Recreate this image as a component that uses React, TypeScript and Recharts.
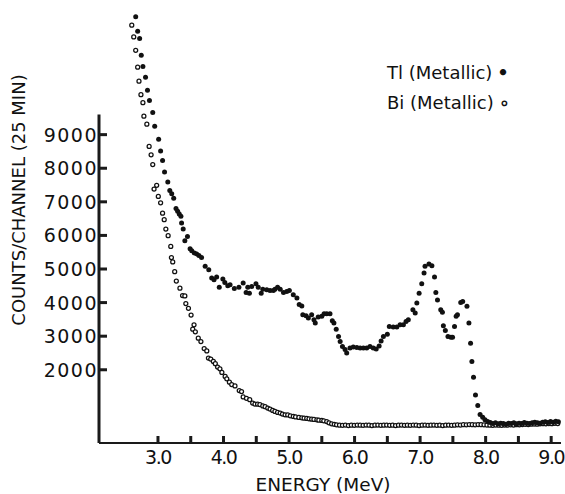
import React from 'react';
import { ScatterChart, Scatter, XAxis, YAxis, Legend, ReferenceLine } from 'recharts';

// Tl (Metallic) — filled dots
const tlEnergy = [
  2.66, 2.69, 2.72, 2.745, 2.77, 2.81, 2.84, 2.87, 2.92, 2.95, 3.01, 3.04, 3.07, 3.1, 3.15, 3.18, 3.21, 3.24,
  3.275, 3.3, 3.325, 3.35, 3.36, 3.385, 3.41, 3.45, 3.49, 3.515, 3.555, 3.59, 3.625, 3.665, 3.72, 3.775, 3.82,
  3.855, 3.895, 3.935, 3.99, 4.02, 4.065, 4.1, 4.165, 4.235, 4.3, 4.345, 4.37, 4.395, 4.43, 4.495, 4.53, 4.575,
  4.6, 4.66, 4.71, 4.76, 4.785, 4.825, 4.865, 4.915, 4.965, 5.005, 5.065, 5.12, 5.155, 5.195, 5.21, 5.26, 5.295,
  5.345, 5.38, 5.4, 5.445, 5.5, 5.535, 5.575, 5.625, 5.66, 5.685, 5.72, 5.755, 5.78, 5.815, 5.855, 5.88, 5.93,
  5.98, 6.035, 6.085, 6.135, 6.185, 6.235, 6.285, 6.33, 6.375, 6.405, 6.44, 6.5, 6.53, 6.59, 6.645, 6.695, 6.745,
  6.785, 6.82, 6.89, 6.925, 6.95, 6.985, 7.025, 7.06, 7.075, 7.135, 7.18, 7.22, 7.24, 7.265, 7.315, 7.34, 7.355,
  7.385, 7.425, 7.47, 7.495, 7.525, 7.55, 7.57, 7.62, 7.65, 7.715, 7.745, 7.77, 7.79, 7.815, 7.845, 7.88, 7.915,
  7.955, 7.99, 8.03, 8.07, 8.11, 8.15, 8.19, 8.23, 8.27, 8.31, 8.35, 8.39, 8.43, 8.47, 8.51, 8.55, 8.59, 8.63,
  8.67, 8.71, 8.75, 8.79, 8.83, 8.87, 8.91, 8.95, 8.99, 9.03, 9.07, 9.11,
];
const tlCounts = [
  12510, 12080, 11860, 11360, 11030, 10710, 10320, 10020, 9660, 9250, 8860, 8510, 8230, 7890, 7590, 7340, 7240, 7110,
  6800, 6720, 6640, 6570, 6370, 6190, 5840, 5970, 5600, 5540, 5480, 5450, 5400, 5340, 5080, 4980, 4730,
  4680, 4760, 4460, 4700, 4600, 4500, 4530, 4420, 4460, 4580, 4300, 4460, 4280, 4480, 4560, 4460, 4280,
  4400, 4380, 4360, 4360, 4400, 4460, 4400, 4300, 4330, 4360, 4230, 4140, 3940, 3900, 3640, 3610, 3540,
  3640, 3490, 3390, 3570, 3590, 3670, 3670, 3670, 3460, 3390, 3210, 2990, 2840, 2690, 2600, 2500, 2650,
  2680, 2660, 2650, 2650, 2650, 2690, 2650, 2620, 2710, 2860, 2990, 3060, 3290, 3270, 3270, 3340, 3340,
  3440, 3490, 3790, 3690, 3990, 4280, 4560, 4880, 5080, 5150, 5100, 4760, 4300, 4080, 3790, 3710, 3310,
  3170, 2990, 2970, 2970, 3290, 3590, 3640, 4000, 4030, 3890, 3390, 2790, 2250, 1780, 1250, 935, 670,
  590, 510, 460, 430, 400, 420, 390, 410, 400, 380, 410, 400, 420, 390, 410, 400, 430, 410,
  400, 420, 440, 420, 410, 440, 450, 430, 460, 440, 470, 450,
];

// Bi (Metallic) — open circles
const biEnergy = [
  2.6, 2.63, 2.66, 2.69, 2.71, 2.74, 2.77, 2.785, 2.83, 2.865, 2.895, 2.92, 2.94, 2.98, 3.005, 3.04, 3.07, 3.095,
  3.12, 3.155, 3.195, 3.205, 3.225, 3.255, 3.28, 3.335, 3.375, 3.41, 3.425, 3.465, 3.505, 3.53, 3.55, 3.57, 3.615,
  3.655, 3.705, 3.745, 3.77, 3.805, 3.845, 3.875, 3.91, 3.945, 3.975, 4.025, 4.05, 4.09, 4.125, 4.175, 4.24, 4.275,
  4.3, 4.35, 4.4, 4.445, 4.48, 4.52, 4.555, 4.6, 4.635, 4.675, 4.71, 4.75, 4.785, 4.825, 4.865, 4.9, 4.94, 4.98,
  5.02, 5.065, 5.1, 5.15, 5.195, 5.23, 5.27, 5.305, 5.345, 5.38, 5.425, 5.455, 5.5, 5.53, 5.575, 5.61, 5.65, 5.69,
  5.725, 5.77, 5.815, 5.86, 5.905, 5.95, 5.995, 6.04, 6.085, 6.13, 6.175, 6.22, 6.265, 6.31, 6.355, 6.4, 6.445,
  6.49, 6.535, 6.58, 6.625, 6.67, 6.715, 6.76, 6.805, 6.85, 6.895, 6.94, 6.985, 7.03, 7.075, 7.12, 7.165, 7.21,
  7.255, 7.3, 7.345, 7.39, 7.435, 7.48, 7.525, 7.57, 7.615, 7.66, 7.705, 7.75, 7.795, 7.84, 7.885, 7.93, 7.975,
  8.02, 8.065, 8.11, 8.155, 8.2, 8.245, 8.29, 8.335, 8.38, 8.425, 8.47, 8.515, 8.56, 8.605, 8.65, 8.695, 8.74,
  8.785, 8.83, 8.875, 8.92, 8.965, 9.01, 9.055, 9.1,
];
const biCounts = [
  12260, 11910, 11510, 11010, 10590, 10190, 9950, 9550, 9310, 8650, 8400, 8110, 7380, 7490, 7160, 6970, 6660, 6470,
  6190, 5990, 5670, 5340, 5210, 4920, 4640, 4430, 4210, 4200, 3970, 3830, 3630, 3210, 3340, 3130, 2940,
  2840, 2630, 2560, 2350, 2320, 2250, 2180, 2080, 2030, 1920, 1800, 1730, 1630, 1560, 1520, 1380, 1350,
  1190, 1150, 1110, 1010, 980, 975, 965, 925, 900, 860, 830, 790, 760, 730, 710, 680, 660, 655,
  630, 610, 595, 580, 570, 560, 550, 540, 530, 520, 510, 500, 490, 480, 460, 420, 390, 375,
  360, 350, 345, 355, 340, 350, 345, 355, 350, 345, 355, 350, 340, 350, 355, 345, 350,
  355, 345, 350, 340, 350, 355, 345, 350, 345, 355, 350, 340, 350, 355, 345, 350, 355,
  345, 350, 340, 350, 355, 345, 350, 360, 355, 365, 360, 370, 365, 360, 370, 365, 360,
  355, 350, 345, 355, 350, 345, 355, 350, 360, 355, 365, 360, 370, 375, 370, 380, 385,
  380, 390, 395, 390, 400, 395, 405, 400,
];

// y-axis line extent (drawn only up to just above the 9000 tick, as in the original)
const yAxisLineEnergy = [2.1, 2.1];
const yAxisLineCounts = [-180, 9600];

const xTicks = [3, 3.5, 4, 4.5, 5, 5.5, 6, 6.5, 7, 7.5, 8, 8.5, 9];
const yTicks = [2000, 3000, 4000, 5000, 6000, 7000, 8000, 9000];
const seriesNames = ['Tl (Metallic)', 'Bi (Metallic)'];
const legendMarks = ['•', '∘'];
const xLabel = 'ENERGY (MeV)';
const yLabel = 'COUNTS/CHANNEL (25 MIN)';

const tlData = tlEnergy.map((x, i) => ({ x, y: tlCounts[i] }));
const biData = biEnergy.map((x, i) => ({ x, y: biCounts[i] }));

const INK = '#111';
const AXIS = '#1a1a1a';
const FONT = '"DejaVu Sans", sans-serif';
const X_MARGIN = 7;
const Y_MARGIN = 1;

const FilledDot = (p: any) => <circle cx={p.cx} cy={p.cy} r={2.5} fill={INK} />;
const OpenDot = (p: any) => (
  <circle cx={p.cx} cy={p.cy} r={2.0} fill="#fff" stroke={INK} strokeWidth={1.25} />
);

const XTick = (props: any) => {
  const { x, y, payload } = props;
  const v = payload.value as number;
  const axisY = y - X_MARGIN;
  return (
    <g>
      <rect x={x - 1.5} y={axisY - 7} width={3} height={7} fill={AXIS} />
      {Number.isInteger(v) ? (
        <text x={x} y={axisY + 20.5} textAnchor="middle" fontFamily={FONT} fontSize={19} letterSpacing={-1.5} fill={INK}>
          {v.toFixed(1)}
        </text>
      ) : null}
    </g>
  );
};

const YTick = (props: any) => {
  const { x, y, payload } = props;
  const axisX = x + Y_MARGIN;
  return (
    <g>
      <rect x={axisX} y={y - 1.5} width={8} height={3} fill={AXIS} />
      <text x={axisX - 1} y={y + 7} textAnchor="end" fontFamily={FONT} fontSize={19} letterSpacing={1.5} fill={INK}>
        {payload.value}
      </text>
    </g>
  );
};

const renderXLabel = (props: any) => {
  const vb = props.viewBox || { x: 99, y: 443, width: 462 };
  return (
    <text x={vb.x + 224} y={vb.y + 48} textAnchor="middle" fontFamily={FONT} fontSize={18.5} fill={INK}>
      {xLabel}
    </text>
  );
};

const renderYLabel = (props: any) => {
  const vb = props.viewBox || { x: 0, y: 7 };
  const cx = vb.x + 25;
  const cy = vb.y + 193;
  return (
    <text x={cx} y={cy} transform={`rotate(-90 ${cx} ${cy})`} textAnchor="middle" fontFamily={FONT} fontSize={18} fill={INK}>
      {yLabel}
    </text>
  );
};

const renderLegend = () => (
  <div style={{ fontFamily: FONT, fontSize: 18, color: INK, lineHeight: '30px' }}>
    {seriesNames.map((name, i) => (
      <div key={name} style={{ height: 30, whiteSpace: 'nowrap' }}>
        <span>{name}</span>
        <span style={{ marginLeft: 5, fontWeight: 'bold' }}>{legendMarks[i]}</span>
      </div>
    ))}
  </div>
);

export default function App() {
  return (
    <div style={{ position: 'fixed', left: 0, top: 0, width: 565, height: 494, background: '#fff' }}>
      <ScatterChart width={565} height={494} margin={{ top: 7, right: 4, bottom: 0, left: 0 }}>
        <XAxis type="number" dataKey="x" domain={[2.1, 9.15]} ticks={xTicks} interval={0} height={51}
          tickSize={0} tickMargin={X_MARGIN} tick={XTick} axisLine={{ stroke: AXIS, strokeWidth: 1.8 }}
          tickLine={false} label={renderXLabel} />
        <YAxis type="number" dataKey="y" domain={[-180, 12800]} ticks={yTicks} interval={0} width={99}
          tickSize={0} tickMargin={Y_MARGIN} axisLine={false} tickLine={false} tick={YTick} label={renderYLabel} />
        <ReferenceLine
          segment={[
            { x: yAxisLineEnergy[0], y: yAxisLineCounts[0] },
            { x: yAxisLineEnergy[1], y: yAxisLineCounts[1] },
          ]}
          stroke={AXIS}
          strokeWidth={3}
          ifOverflow="visible"
        />
        <Legend layout="horizontal" verticalAlign="middle" align="center" content={renderLegend}
          wrapperStyle={{ position: 'absolute', top: 58, left: 387, width: 160, height: 60 }} />
        <Scatter name={seriesNames[1]} data={biData} shape={OpenDot} isAnimationActive={false} />
        <Scatter name={seriesNames[0]} data={tlData} shape={FilledDot} isAnimationActive={false} />
      </ScatterChart>
    </div>
  );
}
